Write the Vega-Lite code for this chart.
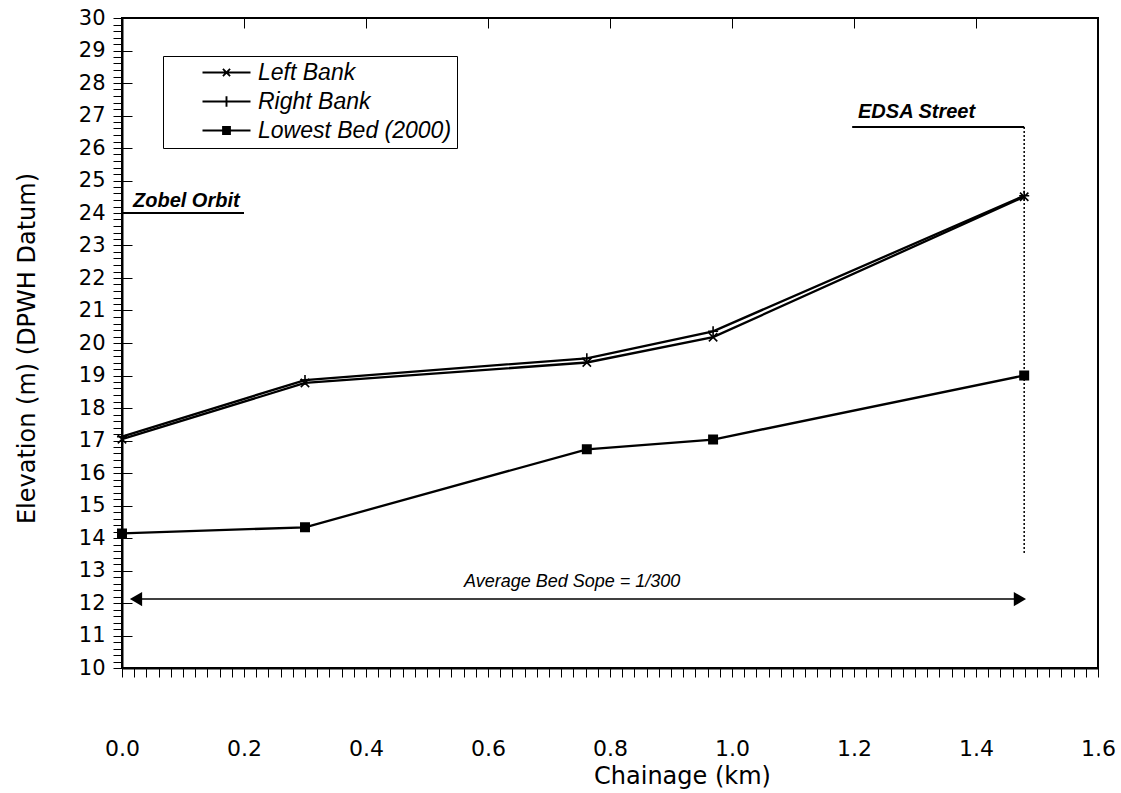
{
  "$schema": "https://vega.github.io/schema/vega-lite/v6.json",
  "width": 976,
  "height": 650,
  "autosize": {"type": "none"},
  "padding": {"left": 122, "top": 18, "right": 23, "bottom": 125},
  "background": "white",
  "config": {
    "view": {"stroke": "black", "strokeWidth": 2},
    "axis": {"labelColor": "black", "titleColor": "black", "tickColor": "black", "domainColor": "black", "gridColor": "black"}
  },
  "resolve": {"scale": {"shape": "independent"}},
  "datasets": {
    "series": [
      {"chainage": 0.0, "elev": 17.04, "s": "Left Bank"},
      {"chainage": 0.30, "elev": 18.77, "s": "Left Bank"},
      {"chainage": 0.762, "elev": 19.40, "s": "Left Bank"},
      {"chainage": 0.969, "elev": 20.18, "s": "Left Bank"},
      {"chainage": 1.479, "elev": 24.50, "s": "Left Bank"},
      {"chainage": 0.0, "elev": 17.12, "s": "Right Bank"},
      {"chainage": 0.30, "elev": 18.86, "s": "Right Bank"},
      {"chainage": 0.762, "elev": 19.53, "s": "Right Bank"},
      {"chainage": 0.969, "elev": 20.36, "s": "Right Bank"},
      {"chainage": 1.479, "elev": 24.53, "s": "Right Bank"},
      {"chainage": 0.0, "elev": 14.14, "s": "Lowest Bed (2000)"},
      {"chainage": 0.30, "elev": 14.33, "s": "Lowest Bed (2000)"},
      {"chainage": 0.762, "elev": 16.73, "s": "Lowest Bed (2000)"},
      {"chainage": 0.969, "elev": 17.03, "s": "Lowest Bed (2000)"},
      {"chainage": 1.479, "elev": 19.0, "s": "Lowest Bed (2000)"}
    ],
    "hrules": [
      {"chainage": 0.0, "chainage2": 0.2, "elev": 24.0},
      {"chainage": 1.197, "chainage2": 1.479, "elev": 26.65}
    ],
    "vrule": [
      {"chainage": 1.479, "elev": 26.65, "elev2": 13.48}
    ],
    "arrow": [
      {"chainage": 0.023, "chainage2": 1.472, "elev": 12.12}
    ],
    "heads": [
      {"chainage": 0.023, "elev": 12.12, "dir": "left"},
      {"chainage": 1.472, "elev": 12.12, "dir": "right"}
    ],
    "boldlabels": [
      {"chainage": 0.018, "elev": 24.18, "label": "Zobel Orbit"},
      {"chainage": 1.2066, "elev": 26.92, "label": "EDSA Street"}
    ],
    "italiclabels": [
      {"chainage": 0.738, "elev": 12.49, "label": "Average Bed Sope = 1/300"}
    ]
  },
  "encoding": {
    "x": {
      "field": "chainage", "type": "quantitative",
      "scale": {"domain": [0, 1.6], "nice": false, "zero": false},
      "axis": {
        "title": "Chainage (km)",
        "values": [0,0.02,0.04,0.06,0.08,0.1,0.12,0.14,0.16,0.18,0.2,0.22,0.24,0.26,0.28,0.3,0.32,0.34,0.36,0.38,0.4,0.42,0.44,0.46,0.48,0.5,0.52,0.54,0.56,0.58,0.6,0.62,0.64,0.66,0.68,0.7,0.72,0.74,0.76,0.78,0.8,0.82,0.84,0.86,0.88,0.9,0.92,0.94,0.96,0.98,1,1.02,1.04,1.06,1.08,1.1,1.12,1.14,1.16,1.18,1.2,1.22,1.24,1.26,1.28,1.3,1.32,1.34,1.36,1.38,1.4,1.42,1.44,1.46,1.48,1.5,1.52,1.54,1.56,1.58,1.6],
        "labelExpr": "abs(datum.value*5 - round(datum.value*5)) < 0.001 ? format(datum.value, '.1f') : ''",
        "labelOverlap": false,
        "labelFlush": false,
        "tickSize": 9,
        "tickWidth": 1,
        "domainWidth": 2,
        "grid": true,
        "gridWidth": 1,
        "gridDash": [10, 2000],
        "gridOpacity": {"condition": {"test": "abs(datum.value*5 - round(datum.value*5)) < 0.001", "value": 1}, "value": 0},
        "labelFont": "DejaVu Sans",
        "labelFontSize": 22,
        "labelPadding": 61,
        "titleFont": "DejaVu Sans",
        "titleFontSize": 24,
        "titleFontWeight": "normal",
        "titleX": 560,
        "titleY": 108,
        "titleBaseline": "middle"
      }
    },
    "y": {
      "field": "elev", "type": "quantitative",
      "scale": {"domain": [10, 30], "nice": false, "zero": false},
      "axis": {
        "title": "Elevation (m) (DPWH Datum)",
        "values": [10,10.2,10.4,10.6,10.8,11,11.2,11.4,11.6,11.8,12,12.2,12.4,12.6,12.8,13,13.2,13.4,13.6,13.8,14,14.2,14.4,14.6,14.8,15,15.2,15.4,15.6,15.8,16,16.2,16.4,16.6,16.8,17,17.2,17.4,17.6,17.8,18,18.2,18.4,18.6,18.8,19,19.2,19.4,19.6,19.8,20,20.2,20.4,20.6,20.8,21,21.2,21.4,21.6,21.8,22,22.2,22.4,22.6,22.8,23,23.2,23.4,23.6,23.8,24,24.2,24.4,24.6,24.8,25,25.2,25.4,25.6,25.8,26,26.2,26.4,26.6,26.8,27,27.2,27.4,27.6,27.8,28,28.2,28.4,28.6,28.8,29,29.2,29.4,29.6,29.8,30],
        "labelExpr": "abs(datum.value - round(datum.value)) < 0.001 ? format(datum.value, 'd') : ''",
        "labelOverlap": false,
        "labelFlush": false,
        "tickSize": 9,
        "tickWidth": 1,
        "domainWidth": 2,
        "grid": true,
        "gridWidth": 1,
        "gridDash": [10, 2000],
        "gridOpacity": {"condition": {"test": "abs(datum.value - round(datum.value)) < 0.001", "value": 1}, "value": 0},
        "labelFont": "DejaVu Sans",
        "labelFontSize": 21,
        "labelPadding": 8,
        "titleFont": "DejaVu Sans",
        "titleFontSize": 24,
        "titleFontWeight": "normal",
        "titleAngle": 270,
        "titleX": -95,
        "titleY": 330,
        "titleAlign": "center",
        "titleBaseline": "middle"
      }
    }
  },
  "layer": [
    {
      "data": {"name": "series"},
      "mark": {"type": "line", "color": "black", "strokeWidth": 2.3},
      "encoding": {
        "detail": {"field": "s", "type": "nominal"}
      }
    },
    {
      "data": {"name": "series"},
      "mark": {"type": "point", "stroke": "black", "strokeWidth": 1.6, "opacity": 1, "size": 70},
      "encoding": {
        "shape": {
          "field": "s", "type": "nominal",
          "scale": {
            "domain": ["Left Bank", "Right Bank", "Lowest Bed (2000)"],
            "range": ["M-1,-1L1,1M-1,1L1,-1", "M-1.2,0H1.2M0,-1.2V1.2", "square"]
          },
          "legend": null
        },
        "fill": {
          "field": "s", "type": "nominal",
          "scale": {
            "domain": ["Left Bank", "Right Bank", "Lowest Bed (2000)"],
            "range": ["transparent", "transparent", "black"]
          },
          "legend": null
        }
      }
    },
    {
      "data": {"name": "series"},
      "mark": {"type": "point", "filled": true, "color": "black", "opacity": 0, "size": 256},
      "encoding": {
        "shape": {
          "field": "s", "type": "nominal",
          "scale": {
            "domain": ["Left Bank", "Right Bank", "Lowest Bed (2000)"],
            "range": [
              "M-3,-0.14H3V0.14H-3Z M-0.37,-0.53L0.53,0.37L0.37,0.53L-0.53,-0.37Z M-0.53,0.37L0.37,-0.53L0.53,-0.37L-0.37,0.53Z",
              "M-3,-0.14H3V0.14H-3Z M-0.12,-0.65H0.12V0.65H-0.12Z",
              "M-3,-0.14H3V0.14H-3Z M-0.55,-0.55H0.55V0.55H-0.55Z"
            ]
          },
          "legend": {
            "title": null,
            "orient": "none",
            "legendX": 41,
            "legendY": 38,
            "strokeColor": "black",
            "fillColor": "white",
            "padding": 5,
            "symbolSize": 256,
            "symbolOffset": 47,
            "labelOffset": 20,
            "rowPadding": 5,
            "symbolOpacity": 1,
            "symbolFillColor": "black",
            "labelFont": "Liberation Sans",
            "labelFontStyle": "italic",
            "labelFontSize": 23,
            "labelColor": "black",
            "labelLimit": 400
          }
        }
      }
    },
    {
      "data": {"name": "hrules"},
      "mark": {"type": "rule", "color": "black", "strokeWidth": 2},
      "encoding": {
        "x2": {"field": "chainage2"}
      }
    },
    {
      "data": {"name": "vrule"},
      "mark": {"type": "rule", "color": "black", "strokeWidth": 1.5, "strokeDash": [2, 2]},
      "encoding": {
        "y2": {"field": "elev2"}
      }
    },
    {
      "data": {"name": "arrow"},
      "mark": {"type": "rule", "color": "black", "strokeWidth": 1.5},
      "encoding": {
        "x2": {"field": "chainage2"}
      }
    },
    {
      "data": {"name": "heads"},
      "transform": [{"filter": "datum.dir === 'left'"}],
      "mark": {"type": "point", "shape": "triangle-left", "filled": true, "color": "black", "opacity": 1, "size": 200},
      "encoding": {}
    },
    {
      "data": {"name": "heads"},
      "transform": [{"filter": "datum.dir === 'right'"}],
      "mark": {"type": "point", "shape": "triangle-right", "filled": true, "color": "black", "opacity": 1, "size": 200},
      "encoding": {}
    },
    {
      "data": {"name": "boldlabels"},
      "mark": {"type": "text", "align": "left", "baseline": "alphabetic", "font": "Liberation Sans", "fontSize": 20, "fontWeight": "bold", "fontStyle": "italic", "color": "black"},
      "encoding": {
        "text": {"field": "label"}
      }
    },
    {
      "data": {"name": "italiclabels"},
      "mark": {"type": "text", "align": "center", "baseline": "alphabetic", "font": "Liberation Sans", "fontSize": 18, "fontStyle": "italic", "color": "black"},
      "encoding": {
        "text": {"field": "label"}
      }
    }
  ]
}
